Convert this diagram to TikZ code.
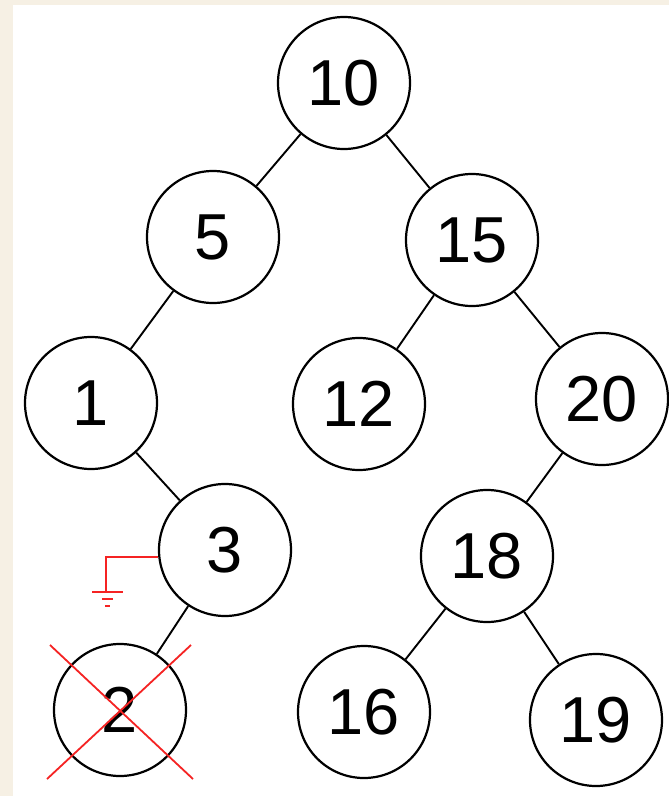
\documentclass[tikz,border=0pt]{standalone}
\usepackage{fontspec}
\setmainfont{Liberation Sans}
\definecolor{paper}{RGB}{246,240,228}
\definecolor{mark}{RGB}{245,35,35}
\begin{document}
\begin{tikzpicture}[x=1pt,y=-1pt,
  tnode/.style={circle,draw=black,line width=2.2pt,minimum size=132pt,inner sep=0pt,fill=white,font=\fontsize{65}{65}\selectfont},
  edge/.style={draw=black,line width=1.9pt},
  redline/.style={draw=mark,line width=2.2pt},
  crossline/.style={draw=mark,line width=1.8pt}]
\useasboundingbox (0,0) rectangle (669,796);
\fill[paper] (0,0) rectangle (669,796);
\fill[white] (13,5) rectangle (669,796);

\node[tnode] (n10) at (344,83) {10};
\node[tnode] (n5) at (213,237) {5};
\node[tnode] (n15) at (472,240) {15};
\node[tnode] (n1) at (91,403) {1};
\node[tnode] (n12) at (359,404) {12};
\node[tnode] (n20) at (602,399) {20};
\node[tnode] (n3) at (225,550) {3};
\node[tnode] (n18) at (487,556) {18};
\node[tnode] (n2) at (120,710) {2};
\node[tnode] (n16) at (364,712) {16};
\node[tnode] (n19) at (596,720) {19};

\path[edge] (n10) -- (n5);
\path[edge] (n10) -- (n15);
\path[edge] (n5) -- (n1);
\path[edge] (n15) -- (n12);
\path[edge] (n15) -- (n20);
\path[edge] (n1) -- (n3);
\path[edge] (n20) -- (n18);
\path[edge] (n3) -- (n2);
\path[edge] (n18) -- (n16);
\path[edge] (n18) -- (n19);

% ground symbol
\coordinate (g0) at (n3.west |- 0,557);
\coordinate (g1) at (106,557);
\coordinate (g2) at (106,592);
\path[redline] (g0) -- (g1) -- (g2);
\path[redline] (92,592) -- (123,592);
\path[redline] (102,599) -- (113,599);
\path[redline] (105,606) -- (110,606);

% cross over node 2
\coordinate (x1) at (50,645);
\coordinate (x2) at (193,779);
\coordinate (x3) at (191,645);
\coordinate (x4) at (47,779);
\path[crossline] (x1) -- (x2);
\path[crossline] (x3) -- (x4);
\end{tikzpicture}
\end{document}
